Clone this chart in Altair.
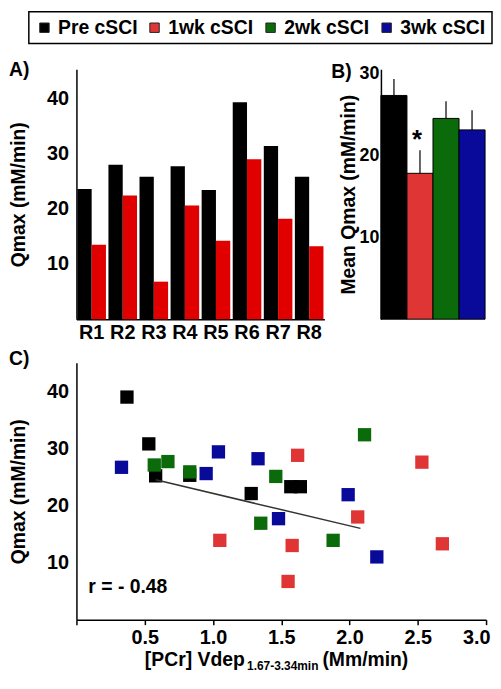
import altair as alt
import pandas as pd

FONT = "Liberation Sans"

# ---------------- data ----------------
# Panel A: individual Qmax, pre vs 1wk
riders = ["R1", "R2", "R3", "R4", "R5", "R6", "R7", "R8"]
qmax_pre = [23.6, 28.0, 25.8, 27.7, 23.4, 39.3, 31.4, 25.8]
qmax_1wk = [13.5, 22.4, 6.8, 20.6, 14.2, 29.0, 18.2, 13.2]
a_colors = ["#000000", "#e00000"]

# Panel B: mean Qmax with upper error bars
groups = ["Pre cSCI", "1wk cSCI", "2wk cSCI", "3wk cSCI"]
mean_qmax = [27.3, 17.8, 24.5, 23.1]
mean_err_top = [29.3, 20.6, 26.6, 25.5]
group_colors = ["#000000", "#e03535", "#0b6b0b", "#0a0a9a"]

# Panel C: Qmax vs [PCr] Vdep
pre_x = [0.37, 0.53, 0.58, 0.83, 1.28, 1.57, 1.64]
pre_y = [39.0, 30.8, 25.2, 25.3, 22.1, 23.3, 23.3]
wk1_x = [1.05, 1.62, 2.53, 2.06, 1.58, 2.68, 1.55]
wk1_y = [13.9, 28.8, 27.6, 18.0, 13.0, 13.3, 6.7]
wk2_x = [0.57, 0.67, 0.83, 2.11, 1.46, 1.35, 1.88]
wk2_y = [27.1, 27.7, 25.9, 32.4, 25.1, 16.9, 13.9]
wk3_x = [0.33, 0.95, 1.04, 1.33, 1.99, 1.48, 2.20]
wk3_y = [26.7, 25.6, 29.4, 28.2, 21.9, 17.7, 11.0]
fit_x = [0.58, 2.08]
fit_y = [24.5, 16.0]
r_label = "r = - 0.48"

# ---------------- shared pieces ----------------
color_scale = alt.Scale(domain=groups, range=group_colors)
legend = alt.Legend(
    orient="none", legendX=-48, legendY=-58, direction="horizontal", title=None,
    symbolType="square", symbolSize=90, symbolStrokeColor="#222", symbolStrokeWidth=1,
    labelFontSize=19.5, labelFontWeight="bold", labelFont=FONT, labelColor="black",
    labelOffset=4, columnPadding=7, padding=6, strokeColor="black", fillColor="white",
)


def label(text, x, y, size=19.5, align="left"):
    return alt.Chart(pd.DataFrame({"t": [text]})).mark_text(
        align=align, baseline="alphabetic", fontSize=size, fontWeight="bold",
        font=FONT, color="black"
    ).encode(text="t:N", x=alt.value(x), y=alt.value(y))


yaxis_common = dict(grid=False, ticks=False, tickSize=0, labelFontSize=20,
                    titleFontSize=19.5)

# ---------------- Panel A ----------------
dfA = pd.DataFrame({
    "rider": riders * 2,
    "time": ["Pre cSCI"] * len(riders) + ["1wk cSCI"] * len(riders),
    "qmax": qmax_pre + qmax_1wk,
    "fill": [a_colors[0]] * len(riders) + [a_colors[1]] * len(riders),
})
barsA = alt.Chart(dfA).mark_bar().encode(
    x=alt.X("rider:N", sort=riders,
            scale=alt.Scale(paddingInner=0.08, paddingOuter=0.03),
            axis=alt.Axis(title=None, labelAngle=0, ticks=False, tickSize=0,
                          labelPadding=3, labelFontSize=20)),
    xOffset=alt.XOffset("time:N", sort=["Pre cSCI", "1wk cSCI"],
                        scale=alt.Scale(paddingInner=0, paddingOuter=0)),
    y=alt.Y("qmax:Q", scale=alt.Scale(domain=[0, 45.3], nice=False),
            axis=alt.Axis(values=[10, 20, 30, 40], title="Qmax (mM/min)",
                          labelPadding=8, titlePadding=18, **yaxis_common)),
    color=alt.Color("fill:N", scale=None),
)
chartA = alt.layer(barsA, label("A)", -68, 7)).properties(width=250, height=252)

# ---------------- Panel B ----------------
dfB = pd.DataFrame({"group": groups, "mean": mean_qmax, "err": mean_err_top})
xB = alt.X("group:N", sort=groups, scale=alt.Scale(paddingInner=0, paddingOuter=0), axis=None)
scB = alt.Scale(domain=[0, 30.5], nice=False)
axB = alt.Axis(values=[10, 20, 30], title="Mean Qmax (mM/min)", labelPadding=2,
               titlePadding=1, grid=False, ticks=False, tickSize=0, labelFontSize=18,
               titleFontSize=19.5)
baseB = alt.Chart(dfB)
errB = baseB.mark_rule(color="#333333", strokeWidth=1.5).encode(
    x=xB, y=alt.Y("mean:Q", scale=scB, axis=axB), y2="err:Q")
barsB = baseB.mark_bar(stroke="black", strokeWidth=1).encode(
    x=xB, y=alt.Y("mean:Q", scale=scB, axis=axB),
    color=alt.Color("group:N", scale=color_scale, legend=legend))
starB = baseB.transform_filter(alt.datum.group == "1wk cSCI").mark_text(
    text="*", fontSize=26, fontWeight="bold", font=FONT, color="black", dy=-10, dx=-3
).encode(x=xB, y=alt.Y("err:Q", scale=scB, axis=axB))
chartB = alt.layer(errB, barsB, starB, label("B)", -50, 9)).properties(width=105, height=252)

# ---------------- Panel C ----------------
dfC = pd.DataFrame({
    "x": pre_x + wk1_x + wk2_x + wk3_x,
    "y": pre_y + wk1_y + wk2_y + wk3_y,
    "group": [groups[0]] * len(pre_x) + [groups[1]] * len(wk1_x)
             + [groups[2]] * len(wk2_x) + [groups[3]] * len(wk3_x),
})
xC = alt.X("x:Q", scale=alt.Scale(domain=[0, 3], nice=False),
           axis=alt.Axis(values=[0, 0.5, 1, 1.5, 2, 2.5, 3], title=None,
                         labelExpr="datum.value == 0 ? '' : format(datum.value, '.1f')",
                         grid=False, ticks=True, tickSize=5, tickWidth=1.5,
                         tickColor="black", labelPadding=3, labelFontSize=20,
                         labelFlush=True, labelFlushOffset=4))
yC = alt.Y("y:Q", scale=alt.Scale(domain=[0, 45], nice=False),
           axis=alt.Axis(values=[10, 20, 30, 40], title="Qmax (mM/min)",
                         labelPadding=8, titlePadding=18, **yaxis_common))
ptsC = alt.Chart(dfC).mark_square(size=180, opacity=1).encode(
    x=xC, y=yC, color=alt.Color("group:N", scale=color_scale, legend=legend))
fitC = alt.Chart(pd.DataFrame({"x": fit_x, "y": fit_y})).mark_line(
    color="#333333", strokeWidth=1.5).encode(x=xC, y=yC)
chartC = alt.layer(
    ptsC, fitC,
    label("C)", -68, 2),
    label(r_label, 12, 232),
    label("[PCr] Vdep", 69, 306),
    label("1.67-3.34min", 172, 310, size=12),
    label("(Mm/min)", 248, 306),
).properties(width=413, height=259)

top = alt.hconcat(chartA, chartB, spacing=57, bounds="flush")
chart = alt.vconcat(top, chartC, spacing=7).properties(padding=0).configure_view(
    stroke=None
).configure_axis(
    labelFont=FONT, titleFont=FONT, labelFontWeight="bold", titleFontWeight="bold",
    labelColor="black", titleColor="black", domainColor="black", domainWidth=1.5,
).configure_legend(strokeWidth=1.5)

chart.save("out.html", embed_options={"renderer": "svg", "actions": False})
